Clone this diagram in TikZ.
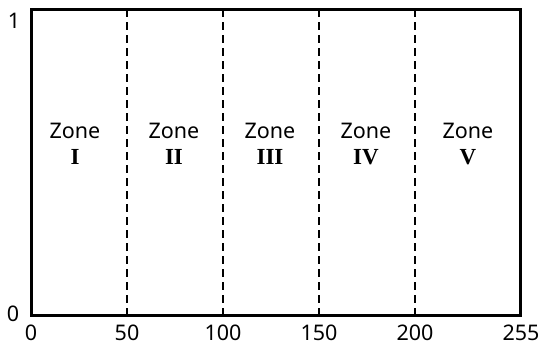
\documentclass[tikz,border=0pt]{standalone}
\usepackage{fontspec}
\setmainfont{Noto Sans}
\newfontfamily\numfont{Liberation Serif}
\begin{document}
\begin{tikzpicture}[x=1pt,y=1pt,
  frame/.style={draw=black,line width=3pt},
  zoneline/.style={draw=black,line width=2pt,dash pattern=on 8pt off 5pt},
  lbl/.style={font=\fontsize{21.5}{24}\selectfont,inner sep=0pt},
  num/.style={font=\fontsize{23}{24}\selectfont\numfont\bfseries,inner sep=0pt}]
\useasboundingbox (0,0) rectangle (550,359);
\coordinate (bl) at (31,43);
\coordinate (tr) at (520,349);
\foreach \n/\x in {a/127,b/223,c/319,d/415}{
  \coordinate (\n b) at (\x,43);
  \coordinate (\n t) at (\x,349);
  \draw[zoneline] (\n b) -- (\n t);
}
\draw[frame] (bl) rectangle (tr);
\node[lbl] (y1) at (14,338) {1};
\node[lbl] (y0) at (13,45) {0};
\foreach \n/\x/\t in {t0/31/0,t1/127/50,t2/223/100,t3/319/150,t4/415/200,t5/521/255}{
  \node[lbl] (\n) at (\x,26) {\t};
}
\foreach \n/\x/\r in {z1/75/I,z2/174/II,z3/270/III,z4/366/IV,z5/468/V}{
  \node[lbl] (\n) at (\x,228) {Zone};
  \node[num] (\n r) at (\x,202) {\r};
}
\end{tikzpicture}
\end{document}
